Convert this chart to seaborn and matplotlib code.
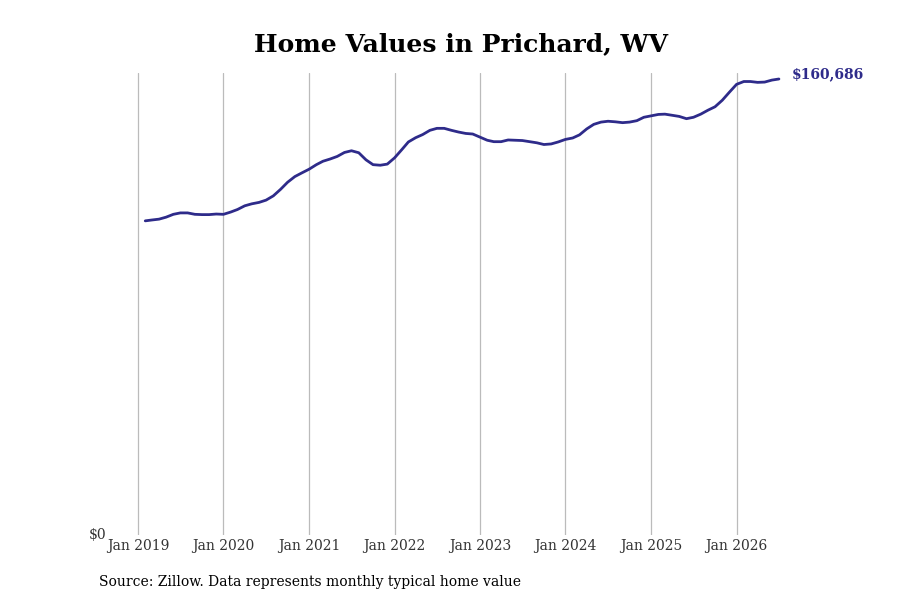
import pandas as pd
import numpy as np
import matplotlib
matplotlib.use("Agg")
from matplotlib import pyplot as plt
import matplotlib.dates as mdates
import seaborn as sb

# Monthly typical home value, Feb 2019 - Jul 2026
months = pd.date_range("2019-02-01", "2026-07-01", freq="MS")
values = [
    110700, 111000, 111300, 112000, 113000, 113500, 113500, 113000, 112900, 112900, 113100,
    113000, 113800, 114700, 116000, 116700, 117200, 118000, 119500, 121800, 124300, 126300, 127600,
    128900, 130500, 131700, 132500, 133400, 134800, 135400, 134700, 132200, 130500, 130300, 130700,
    132900, 135800, 138500, 140000, 141100, 142600, 143300, 143300, 142600, 142000, 141500, 141300,
    140200, 139100, 138600, 138600, 139200, 139100, 139000, 138600, 138200, 137600, 137800, 138500,
    139400, 139900, 141000, 143100, 144700, 145500, 145800, 145600, 145300, 145500, 146000, 147200,
    147700, 148200, 148300, 147900, 147500, 146700, 147200, 148300, 149700, 150900, 153200, 156000,
    158800, 159800, 159800, 159500, 159600, 160300, 160686,
]
tick_years = list(range(2019, 2027))
title = "Home Values in Prichard, WV"
source = "Source: Zillow. Data represents monthly typical home value"

df = pd.DataFrame({"month": months, "value": values})

sb.set_theme(style="white")
plt.rcParams["font.family"] = ["DejaVu Serif"]

line_color = "#2e2b8a"

fig = plt.figure(figsize=(9, 6), dpi=100)
ax = fig.add_axes([112 / 900, 1 - 535 / 600, (790 - 112) / 900, (535 - 73) / 600])

sb.lineplot(data=df, x="month", y="value", ax=ax, color=line_color, linewidth=2.0)

# x range: 85.5 px per year, Jan 2019 at 26 px from left edge
start = pd.Timestamp("2019-01-01")
days_per_px = 365.25 / 85.5
ax.set_xlim(start - pd.Timedelta(days=26 * days_per_px), start + pd.Timedelta(days=652 * days_per_px))
ax.set_ylim(0, 162800)

ticks = [pd.Timestamp(f"{y}-01-01") for y in tick_years]
ax.set_xticks(ticks)
ax.set_xticklabels([f"Jan {y}" for y in tick_years], fontsize=10, color="#333333")
ax.set_yticks([0])
ax.set_yticklabels(["$0"], fontsize=10, color="#333333")
ax.tick_params(axis="both", length=0, pad=3)
ax.tick_params(axis="y", pad=4)
for lab in ax.get_yticklabels():
    lab.set_verticalalignment("center")

ax.grid(axis="x", color="#bbbbbb", linewidth=0.9)
ax.grid(axis="y", visible=False)
for s in ax.spines.values():
    s.set_visible(False)
ax.set_xlabel("")
ax.set_ylabel("")

# end label
ax.annotate(f"${values[-1]:,}", xy=(months[-1], values[-1]), xytext=(9, 3.5),
            textcoords="offset points", fontsize=10, fontweight="bold",
            color=line_color, va="center", ha="left")

fig.text(461 / 900, 1 - 44 / 600, title, ha="center", va="center",
         fontsize=18, fontweight="bold", color="black")
fig.text(99 / 900, 1 - 582 / 600, source, ha="left", va="center", fontsize=10, color="black")

fig.savefig("out.png", dpi=100)
